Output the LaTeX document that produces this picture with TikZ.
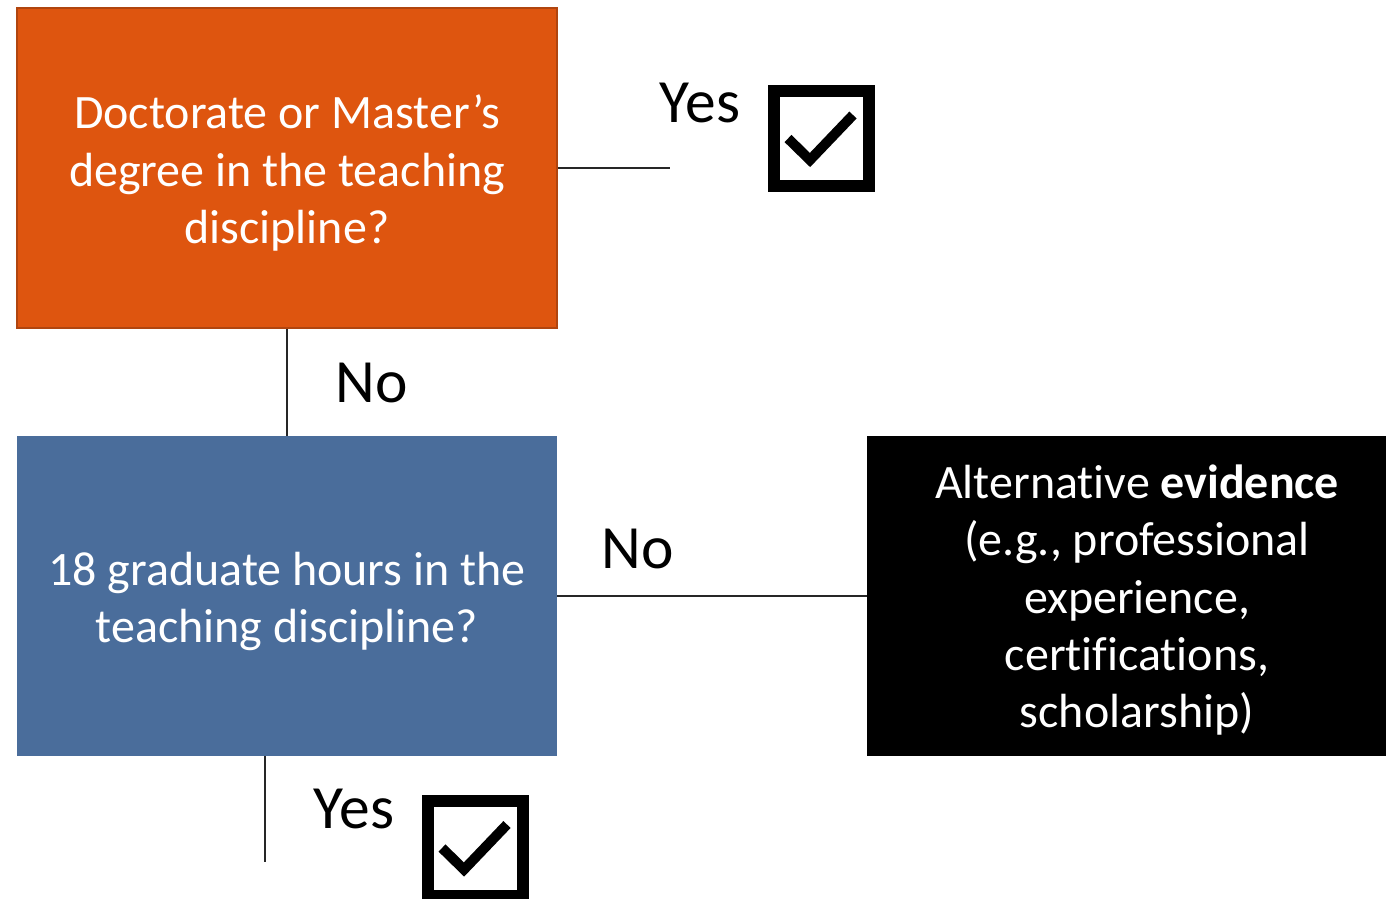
\documentclass[tikz,border=0pt]{standalone}
\usepackage{fontspec}
\setmainfont{Carlito}[Ligatures=NoCommon]
\usepackage{tikz}
\usetikzlibrary{positioning}
\definecolor{Rust}{HTML}{DE550F}
\definecolor{RustEdge}{HTML}{B0450F}
\definecolor{Slate}{HTML}{4A6D9B}
\definecolor{Ink}{HTML}{000000}
\newcommand{\toplift}{\rule{0pt}{25pt}}
\tikzset{
  qbox/.style={minimum width=10.8cm, minimum height=6.4cm, align=center, text=white, inner sep=0pt,
    font=\fontsize{27.3}{32.6}\selectfont},
  link/.style={line width=0.8pt, color=Ink!85},
  answer/.style={anchor=base, inner sep=0pt, color=Ink, font=\fontsize{35}{40}\selectfont},
  tickbox/.style={draw=Ink, line width=0.24cm, minimum size=1.9cm, inner sep=0pt},
  tick/.style={line width=0.2cm, color=Ink, miter limit=10},
}

\begin{document}
\begin{tikzpicture}[x=0.02cm, y=-0.02cm]
  \useasboundingbox (0,0) rectangle (1386,899);

  % Question boxes
  \node[qbox, fill=Rust, draw=RustEdge, line width=0.04cm] (qdeg) at (287,168)
    {\toplift Doctorate or Master’s\\degree in the teaching\\discipline?};
  \node[qbox, fill=Slate] (qhours) at (287,596)
    {\toplift 18 graduate hours in the\\teaching discipline?};
  \node[qbox, fill=Ink, minimum width=10.38cm] (alt) at (1126.5,596) {};
  \node[qbox, minimum width=0pt, minimum height=0pt] (alttext) at (1137,595)
    {\toplift Alternative \textbf{evidence}\\(e.g., professional\\experience,\\certifications,\\scholarship)};

  % Answers
  \node[answer] (yesA) at (700,122) {Yes};
  \node[answer] (noA) at (372,402) {No};
  \node[answer] (noB) at (638,568) {No};
  \node[answer] (yesB) at (354,828) {Yes};

  % Check boxes
  \node[tickbox] (chkA) at (821.5,138.5) {};
  \draw[tick] ([shift={(-33.5,0)}]chkA.center) -- ++(22,21.5) -- ++(43,-45);
  \node[tickbox] (chkB) at (475.5,848) {};
  \draw[tick] ([shift={(-33.5,0)}]chkB.center) -- ++(22,21.5) -- ++(43,-45);

  % Connectors
  \coordinate (yesAend) at (670,167);
  \coordinate (yesBend) at (265,862);
  \draw[link] (qdeg.east) -- (qdeg.east -| yesAend);
  \draw[link] (qdeg) -- (qhours);
  \draw[link] (qhours) -- (alt);
  \draw[link] (qhours.south -| yesBend) -- (yesBend);
\end{tikzpicture}
\end{document}
